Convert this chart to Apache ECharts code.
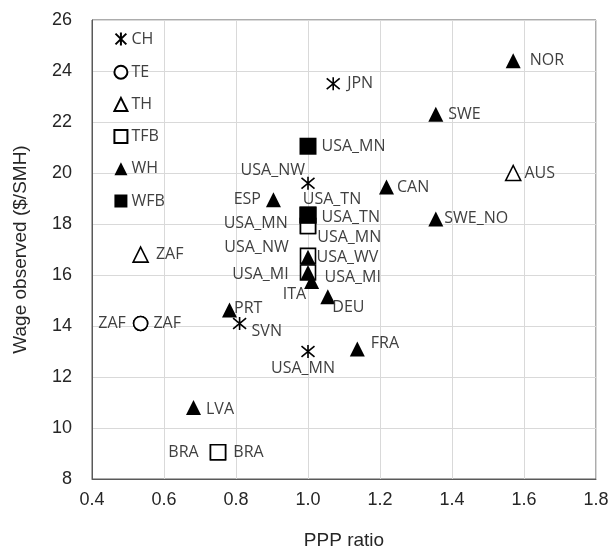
<!DOCTYPE html>
<html>
<head>
<meta charset="utf-8">
<script src="https://cdn.jsdelivr.net/npm/echarts@6/dist/echarts.min.js"></script>
<style>
  html, body { margin: 0; padding: 0; background: #fff; }
  #chart { width: 615px; height: 557px; }
</style>
</head>
<body>
<div id="chart"></div>
<script>
// axis ticks
var xTicks = [0.4, 0.6, 0.8, 1.0, 1.2, 1.4, 1.6, 1.8];
var yTicks = [8, 10, 12, 14, 16, 18, 20, 22, 24, 26];

// CH (asterisk)
var chNames = ['JPN', 'USA_NW', 'SVN', 'USA_MN'];
var chX = [1.07, 1.0, 0.81, 1.0];
var chY = [23.5, 19.6, 14.1, 13.0];

// TE (open circle) - ZAF labelled on both sides
var teNames = ['ZAF', 'ZAF'];
var teX = [0.535, 0.535];
var teY = [14.1, 14.1];

// TH (open triangle)
var thNames = ['ZAF', 'AUS'];
var thX = [0.535, 1.57];
var thY = [16.8, 20.0];

// TFB (open square)
var tfbNames = ['USA_MN', 'USA_MN', 'USA_NW', 'USA_MI', 'BRA', 'BRA'];
var tfbX = [1.0, 1.0, 1.0, 1.0, 0.75, 0.75];
var tfbY = [17.92, 17.92, 16.75, 16.1, 9.05, 9.05];

// WH (filled triangle)
var whNames = ['NOR', 'SWE', 'CAN', 'ESP', 'SWE_NO', 'USA_WV', 'USA_MI', 'ITA', 'DEU', 'PRT', 'FRA', 'LVA'];
var whX = [1.57, 1.355, 1.218, 0.904, 1.355, 1.0, 1.0, 1.01, 1.055, 0.782, 1.137, 0.682];
var whY = [24.4, 22.3, 19.45, 18.95, 18.2, 16.7, 16.1, 15.75, 15.15, 14.63, 13.1, 10.8];

// WFB (filled square)
var wfbNames = ['USA_MN', 'USA_TN', 'USA_TN'];
var wfbX = [1.0, 1.0, 1.0];
var wfbY = [21.05, 18.35, 18.35];

// label placement: [position, dx, dy]
var chLab = [['right', 0, 0], ['left', 11, -13], ['right', -2, 8], ['bottom', -5, -5]];
var teLab = [['right', 0, 0], ['left', -2, 0]];
var thLab = [['right', 2, 0], ['right', -2, 0]];
var tfbLab = [['left', -7, -3], ['right', -4, 11], ['left', -6, -8], ['left', -6, 2], ['right', 2, 0], ['left', -6, 0]];
var whLab = [['right', 4, 0], ['right', 0, 0], ['right', -2, 0], ['left', 0, 0], ['right', -4, 0], ['right', -4, 0],
             ['right', 4, 5], ['left', 7, 13], ['right', -8, 11], ['right', -8, -1], ['right', 1, -6], ['right', 0, 2]];
var wfbLab = [['right', 0, 0], ['right', 0, 2], ['top', 24, 6]];

var starPath = 'path://M0,0L10,10M10,0L0,10M5,-1L5,11';

function buildData(names, xs, ys, labs) {
    return names.map(function (n, i) {
        return {
            name: n,
            value: [xs[i], ys[i]],
            label: {
                position: labs[i][0],
                offset: [labs[i][1], labs[i][2]]
            }
        };
    });
}

var labelStyle = {
    show: true,
    formatter: function (p) { return p.name; },
    fontFamily: 'Open Sans',
    fontSize: 16,
    color: '#404040',
    distance: 5
};

function makeSeries(name, data, symbol, size, filled) {
    return {
        name: name,
        type: 'scatter',
        data: data,
        symbol: symbol,
        symbolSize: size,
        itemStyle: {
            color: filled ? '#000' : (symbol === starPath ? 'none' : '#fff'),
            borderColor: '#000',
            borderWidth: filled ? 0 : 1.6,
            opacity: 1
        },
        label: labelStyle,
        emphasis: { disabled: true },
        z: 2
    };
}

var chart = echarts.init(document.getElementById('chart'));

var option = {
    animation: false,
    grid: {
        left: 92,
        right: 19,
        top: 20,
        bottom: 78,
        show: true,
        borderColor: '#595959',
        borderWidth: 1
    },
    legend: {
        orient: 'vertical',
        left: 108,
        top: 25,
        itemWidth: 13,
        itemHeight: 13,
        itemGap: 16.2,
        textStyle: {
            fontFamily: 'Open Sans',
            fontSize: 16,
            color: '#404040',
            padding: [0, 0, 0, -1]
        },
        data: ['CH', 'TE', 'TH', 'TFB', 'WH', 'WFB']
    },
    xAxis: {
        type: 'value',
        min: xTicks[0],
        max: xTicks[xTicks.length - 1],
        interval: 0.2,
        name: 'PPP ratio',
        nameLocation: 'middle',
        nameGap: 52,
        nameTextStyle: { fontFamily: 'Liberation Sans', fontSize: 19, color: '#262626' },
        axisLine: { show: true, lineStyle: { color: '#595959' } },
        axisTick: { show: false },
        axisLabel: {
            margin: 12,
            fontFamily: 'Liberation Sans',
            fontSize: 18,
            color: '#262626',
            formatter: function (v) { return v.toFixed(1); }
        },
        splitLine: { show: true, lineStyle: { color: '#d9d9d9', width: 1 } }
    },
    yAxis: {
        type: 'value',
        min: yTicks[0],
        max: yTicks[yTicks.length - 1],
        interval: 2,
        name: 'Wage observed ($/SMH)',
        nameLocation: 'middle',
        nameGap: 62,
        nameTextStyle: { fontFamily: 'Liberation Sans', fontSize: 19, color: '#262626' },
        axisLine: { show: true, lineStyle: { color: '#595959' } },
        axisTick: { show: false },
        axisLabel: {
            margin: 20,
            fontFamily: 'Liberation Sans',
            fontSize: 18,
            color: '#262626'
        },
        splitLine: { show: true, lineStyle: { color: '#d9d9d9', width: 1 } }
    },
    series: [
        makeSeries('CH', buildData(chNames, chX, chY, chLab), starPath, 13, false),
        makeSeries('TE', buildData(teNames, teX, teY, teLab), 'circle', 14, false),
        makeSeries('TH', buildData(thNames, thX, thY, thLab), 'triangle', 15, false),
        makeSeries('TFB', buildData(tfbNames, tfbX, tfbY, tfbLab), 'rect', 15, false),
        makeSeries('WH', buildData(whNames, whX, whY, whLab), 'triangle', 15, true),
        makeSeries('WFB', buildData(wfbNames, wfbX, wfbY, wfbLab), 'rect', 17, true)
    ]
};

chart.setOption(option);
</script>
</body>
</html>
